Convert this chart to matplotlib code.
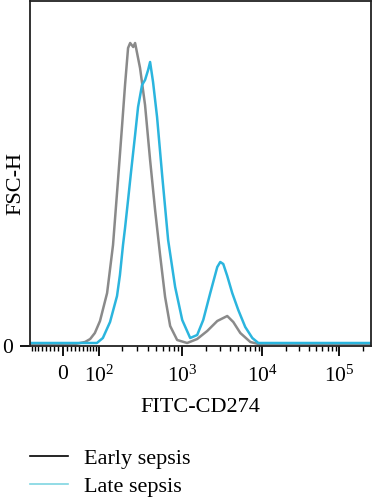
import numpy as np
import matplotlib
matplotlib.use('Agg')
import matplotlib.pyplot as plt
from matplotlib.lines import Line2D

plt.rcParams['font.family'] = ['Liberation Serif', 'DejaVu Serif']
plt.rcParams['mathtext.fontset'] = 'custom'
plt.rcParams['mathtext.rm'] = 'Liberation Serif'
plt.rcParams['mathtext.it'] = 'Liberation Serif:italic'

# FITC-CD274 intensity and event height (arbitrary units)
early_x = [-100, 29, 55, 70, 85, 103, 129, 154, 178, 200, 217, 236, 250, 272, 286, 327, 374,
           428, 489, 558, 637, 728, 875, 1153, 1538, 2052, 2740, 3650, 4340, 5310, 7085, 8920, 3e5]
early_y = [2, 2, 4, 7, 13, 25, 53, 101, 166, 221, 261, 298, 303, 299, 303, 278, 241,
           186, 136, 91, 49, 20, 6, 3, 7, 15, 25, 30, 24, 13, 4, 2, 2]

late_x = [-100, 55, 92, 113, 141, 173, 188, 205, 217, 236, 256, 286, 310, 345, 374, 406, 428,
          463, 515, 589, 690, 830, 1000, 1258, 1538, 1830, 2240, 2740, 2987, 3255, 3650, 4210,
          5010, 6120, 7500, 8920, 3e5]
late_y = [3, 3, 3, 8, 24, 50, 71, 101, 118, 146, 174, 211, 239, 261, 266, 276, 284,
          264, 229, 171, 106, 59, 26, 8, 11, 26, 53, 79, 84, 82, 70, 53,
          36, 19, 8, 3, 3]

major_ticks = [0, 1e2, 1e3, 1e4, 1e5]
major_labels = ['0', '$10^2$', '$10^3$', '$10^4$', '$10^5$']

# biexponential-like display scale (arcsinh, stretched to the instrument's decade spacing)
c = 78.0
G = np.arcsinh(np.array([-1e4, 0, 1e2, 1e3, 1e4, 1e5, 1e7]) / c)
P = np.array([-127.6, 62.5, 99, 182, 262, 339, 493])


def forward(v):
    return np.interp(np.arcsinh(np.asarray(v, dtype=float) / c), G, P)


def inverse(p):
    return c * np.sinh(np.interp(np.asarray(p, dtype=float), P, G))


fig = plt.figure(figsize=(3.75, 5), dpi=100)
ax = fig.add_axes([30 / 375, 154 / 500, 341 / 375, 345 / 500])
ax.set_xscale('function', functions=(forward, inverse))

ax.plot(early_x, early_y, color='#8a8a8a', lw=1.8)
ax.plot(late_x, late_y, color='#2bb5de', lw=1.8)

minor = list(np.arange(-90, 0, 10)) + list(np.arange(10, 100, 10))
for d in [1e2, 1e3, 1e4]:
    minor += list(np.arange(2, 10) * d)
minor += [2e5]
ax.set_xticks(major_ticks)
ax.set_xticklabels(major_labels)
ax.set_xticks(minor, minor=True)
ax.set_yticks([0])
ax.set_yticklabels(['0'])

# limits after ticks so set_xticks cannot widen the view
ax.set_xlim(inverse(30), inverse(370.5))
ax.set_ylim(0, 345)

ax.tick_params(axis='both', which='major', direction='out', length=7, width=1.3,
               labelsize=15.5, colors='black')
ax.tick_params(axis='x', which='major', pad=7)
ax.tick_params(axis='y', which='major', pad=5)
ax.tick_params(axis='x', which='minor', direction='out', length=3.5, width=1.0)
for s in ax.spines.values():
    s.set_linewidth(1.3)
    s.set_color('#222222')

ax.set_xlabel('FITC-CD274', fontsize=16)
ax.xaxis.set_label_coords(0.5, -0.15)
ax.set_ylabel('FSC-H', fontsize=16)
ax.yaxis.set_label_coords(-0.014, 0.47)

handles = [Line2D([], [], color='black', lw=1.2), Line2D([], [], color='#7fd6e2', lw=1.2)]
fig.legend(handles, ['Early sepsis', 'Late sepsis'], loc='upper left',
           bbox_to_anchor=(30 / 375, 1 - 448 / 500), frameon=False, fontsize=16,
           handlelength=1.7, handletextpad=0.75, labelspacing=0.35,
           borderpad=0, borderaxespad=0)

fig.savefig('out.png', dpi=100)
